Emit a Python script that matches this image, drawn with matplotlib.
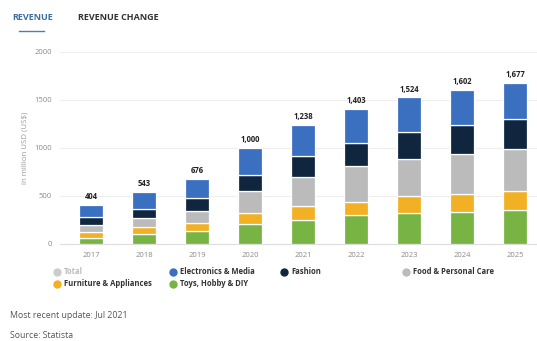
import numpy as np
import matplotlib.pyplot as plt
from matplotlib.lines import Line2D

plt.rcParams["font.family"] = ["Open Sans", "DejaVu Sans"]

# --- data: revenue by segment, million USD ---
years = ["2017", "2018", "2019", "2020", "2021", "2022", "2023", "2024", "2025"]
toys = [65, 104, 135, 208, 250, 298, 320, 333, 354]
furniture = [65, 73, 87, 111, 145, 139, 180, 184, 194]
food = [70, 90, 124, 232, 305, 374, 385, 419, 437]
fashion = [80, 100, 136, 167, 215, 239, 275, 298, 312]
electronics = [124, 176, 194, 282, 323, 353, 364, 368, 380]
totals = [404, 543, 676, 1000, 1238, 1403, 1524, 1602, 1677]

series = [
    ("Toys, Hobby & DIY", toys, "#78b443"),
    ("Furniture & Appliances", furniture, "#f2b124"),
    ("Food & Personal Care", food, "#bbbbbb"),
    ("Fashion", fashion, "#10263f"),
    ("Electronics & Media", electronics, "#3b6fbf"),
]

fig = plt.figure(figsize=(5.37, 3.41), dpi=100)
ax = fig.add_axes([60 / 537, 1 - 244 / 341, 1 - 60 / 537, (244 - 51.7) / 341])

x = np.arange(len(years))
bottom = np.zeros(len(years))
for name, vals, color in series:
    ax.bar(x, vals, width=0.47, bottom=bottom, color=color,
           edgecolor="white", linewidth=0.9, zorder=3)
    bottom += np.array(vals)

for xi, t, b in zip(x, totals, bottom):
    ax.text(xi, b + 40, f"{t:,}", ha="center", va="bottom",
            fontsize=5.5, fontweight="bold", color="#222222")

ax.set_xlim(-0.585, 8.415)
ax.set_ylim(0, 2000)
ax.set_yticks([0, 500, 1000, 1500, 2000])
ax.set_xticks(x)
ax.set_xticklabels(years)
ax.tick_params(length=0, labelsize=5.5, colors="#8a8a8a", pad=6)
ax.yaxis.grid(True, color="#eeeeee", linewidth=0.8, zorder=0)
for side in ["top", "right", "left"]:
    ax.spines[side].set_visible(False)
ax.spines["bottom"].set_color("#dddddd")
ax.set_ylabel("in million USD (US$)", fontsize=5.7, color="#9a9a9a", labelpad=4)

# tabs at the top
fig.text(12 / 537, 1 - 17 / 341, "REVENUE", fontsize=6.5, fontweight="bold",
         color="#3d6e9e", va="center")
fig.add_artist(Line2D([19 / 537, 44 / 537], [1 - 31 / 341, 1 - 31 / 341],
                      color="#4a7fb0", linewidth=1))
fig.text(78 / 537, 1 - 17 / 341, "REVENUE CHANGE", fontsize=6.5, fontweight="bold",
         color="#333333", va="center")

# legend entries
legend_items = [
    ("Total", "#cccccc", 57, 272, "#bbbbbb"),
    ("Electronics & Media", "#3b6fbf", 173, 272, "#333333"),
    ("Fashion", "#10263f", 284, 272, "#333333"),
    ("Food & Personal Care", "#bbbbbb", 406, 272, "#333333"),
    ("Furniture & Appliances", "#f2b124", 57, 284, "#333333"),
    ("Toys, Hobby & DIY", "#78b443", 173, 284, "#333333"),
]
for label, color, px, py, tcolor in legend_items:
    fig.add_artist(Line2D([px / 537], [1 - py / 341], marker="o", markersize=5,
                          color=color, linestyle="none"))
    fig.text((px + 7) / 537, 1 - py / 341, label, fontsize=5.5, fontweight="bold",
             color=tcolor, va="center")

fig.text(10 / 537, 1 - 316 / 341, "Most recent update: Jul 2021", fontsize=6.3,
         color="#555555", va="center")
fig.text(10 / 537, 1 - 336 / 341, "Source: Statista", fontsize=6.3,
         color="#555555", va="center")

fig.savefig("out.png", dpi=100)
